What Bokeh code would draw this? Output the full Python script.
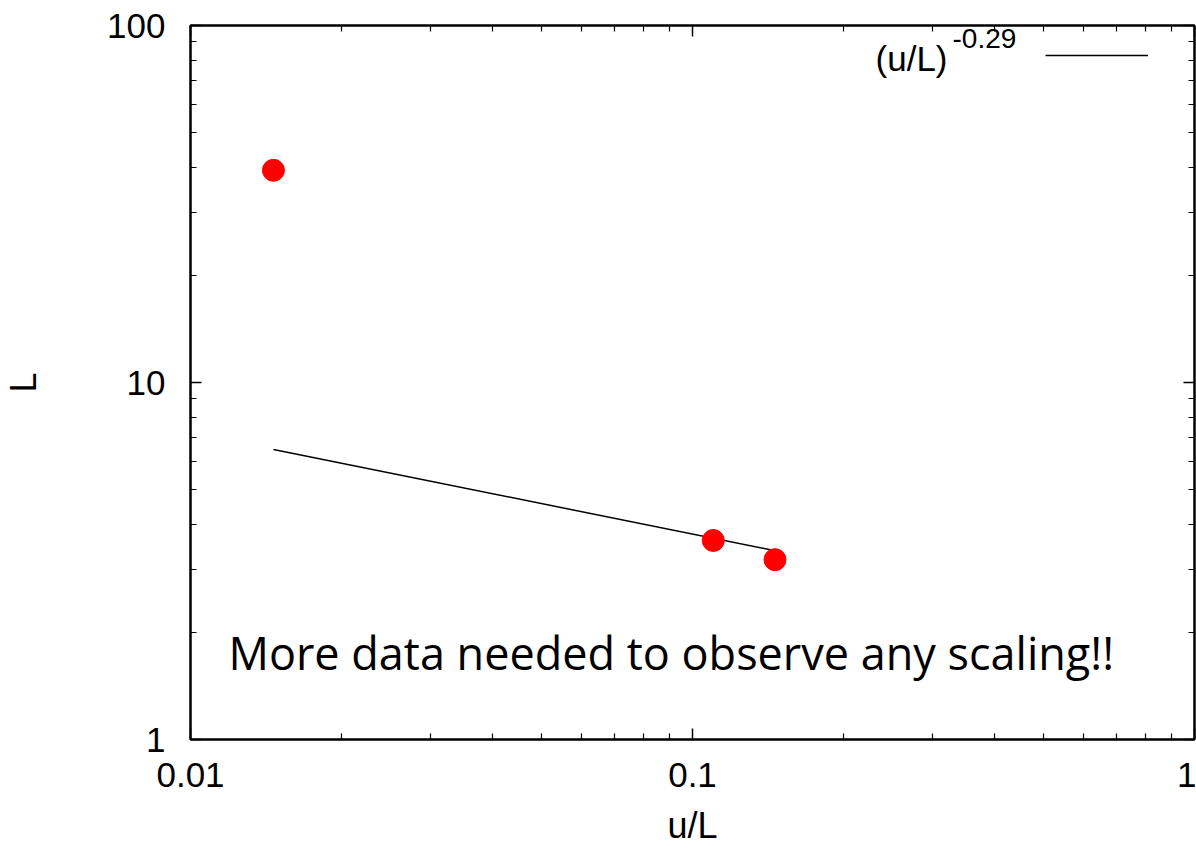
from bokeh.plotting import figure
from bokeh.models import (LogAxis, FixedTicker, Label, Legend, LegendItem,
                          Range1d, LogScale, CustomJSTickFormatter)
from bokeh.core.properties import value
from bokeh.embed import file_html
from bokeh.resources import INLINE

# ---- data ----
u_over_L = [0.01463, 0.110, 0.146]
L_vals = [39.3, 3.61, 3.19]

fit_x = [0.01463, 0.146]
fit_y = [6.49, 3.38]
fit_label = "(u/L)"
fit_exponent = "-0.29"

x_major = [0.01, 0.1, 1]
x_tick_labels = ["0.01", "0.1", "1"]
y_major = [1, 10, 100]
y_tick_labels = ["1", "10", "100"]
x_minor = [m * d for d in (0.01, 0.1) for m in range(2, 10)]
y_minor = [m * d for d in (1, 10) for m in range(2, 10)]

note = "More data needed to observe any scaling!!"

FONT = "Liberation Sans"

p = figure(width=1196, height=850, x_axis_type=None, y_axis_type=None,
           x_range=Range1d(0.01, 1), y_range=Range1d(1, 100),
           output_backend="svg", toolbar_location=None,
           min_border_left=190, min_border_right=2, min_border_top=25,
           min_border_bottom=111)
p.x_scale = LogScale()
p.y_scale = LogScale()
p.grid.visible = False
p.outline_line_color = "black"
p.outline_line_width = 2
p.background_fill_color = "white"
p.border_fill_color = "white"


def style(ax, horiz, show_labels):
    ax.ticker = FixedTicker(ticks=x_major if horiz else y_major,
                            minor_ticks=x_minor if horiz else y_minor)
    ax.axis_line_color = "black"
    ax.axis_line_width = 2
    ax.major_tick_in = 11
    ax.major_tick_out = 0
    ax.minor_tick_in = 6
    ax.minor_tick_out = 0
    ax.major_tick_line_width = 1.5
    ax.minor_tick_line_width = 1.2
    ax.major_tick_line_color = "black"
    ax.minor_tick_line_color = "black"
    if show_labels:
        ticks = x_major if horiz else y_major
        labels = x_tick_labels if horiz else y_tick_labels
        ax.major_label_overrides = {float(t): s for t, s in zip(ticks, labels)}
        ax.major_label_text_font = FONT
        ax.major_label_text_font_size = "35px"
        ax.major_label_text_color = "black"
        ax.axis_label_text_font = FONT
        ax.axis_label_text_font_size = "36px"
        ax.axis_label_text_font_style = "normal"
        ax.axis_label_text_color = "black"
    else:
        ax.formatter = CustomJSTickFormatter(code="return ''")
        ax.major_label_text_font_size = "2px"
        ax.major_label_standoff = 0


xb = LogAxis(axis_label="u/L")
p.add_layout(xb, "below")
yl = LogAxis(axis_label="L")
p.add_layout(yl, "left")
xt = LogAxis()
p.add_layout(xt, "above")
yr = LogAxis()
p.add_layout(yr, "right")

style(xb, True, True)
style(yl, False, True)
style(xt, True, False)
style(yr, False, False)

xb.major_label_standoff = 23
xb.axis_label_standoff = 15
yl.major_label_standoff = 25
yl.axis_label_standoff = 60
yl.major_label_orientation = "horizontal"

fit = p.line(fit_x, fit_y, line_color="black", line_width=1.5)
p.scatter(u_over_L, L_vals, size=22, fill_color="#ff0000", line_color="#ff0000")

legend = Legend(items=[LegendItem(label=value(" "), renderers=[fit])],
                location=(855, 674), glyph_width=103, glyph_height=20,
                label_width=0, label_standoff=0, padding=0, margin=0,
                spacing=0, border_line_alpha=0, background_fill_alpha=0,
                label_text_font_size="2px")
p.add_layout(legend)

p.add_layout(Label(x=757, y=681, x_units="screen", y_units="screen",
                   text=fit_label, text_align="right",
                   text_baseline="alphabetic", text_font=FONT,
                   text_font_size="35px", text_color="black"))
p.add_layout(Label(x=762, y=701, x_units="screen", y_units="screen",
                   text=fit_exponent, text_align="left",
                   text_baseline="alphabetic", text_font=FONT,
                   text_font_size="28px", text_color="black"))

p.add_layout(Label(x=0.0119, y=1.75, text=note, text_align="left",
                   text_baseline="alphabetic", text_font="Open Sans",
                   text_font_size="45px", text_color="black"))

open("out.html", "w").write(file_html(p, INLINE))
